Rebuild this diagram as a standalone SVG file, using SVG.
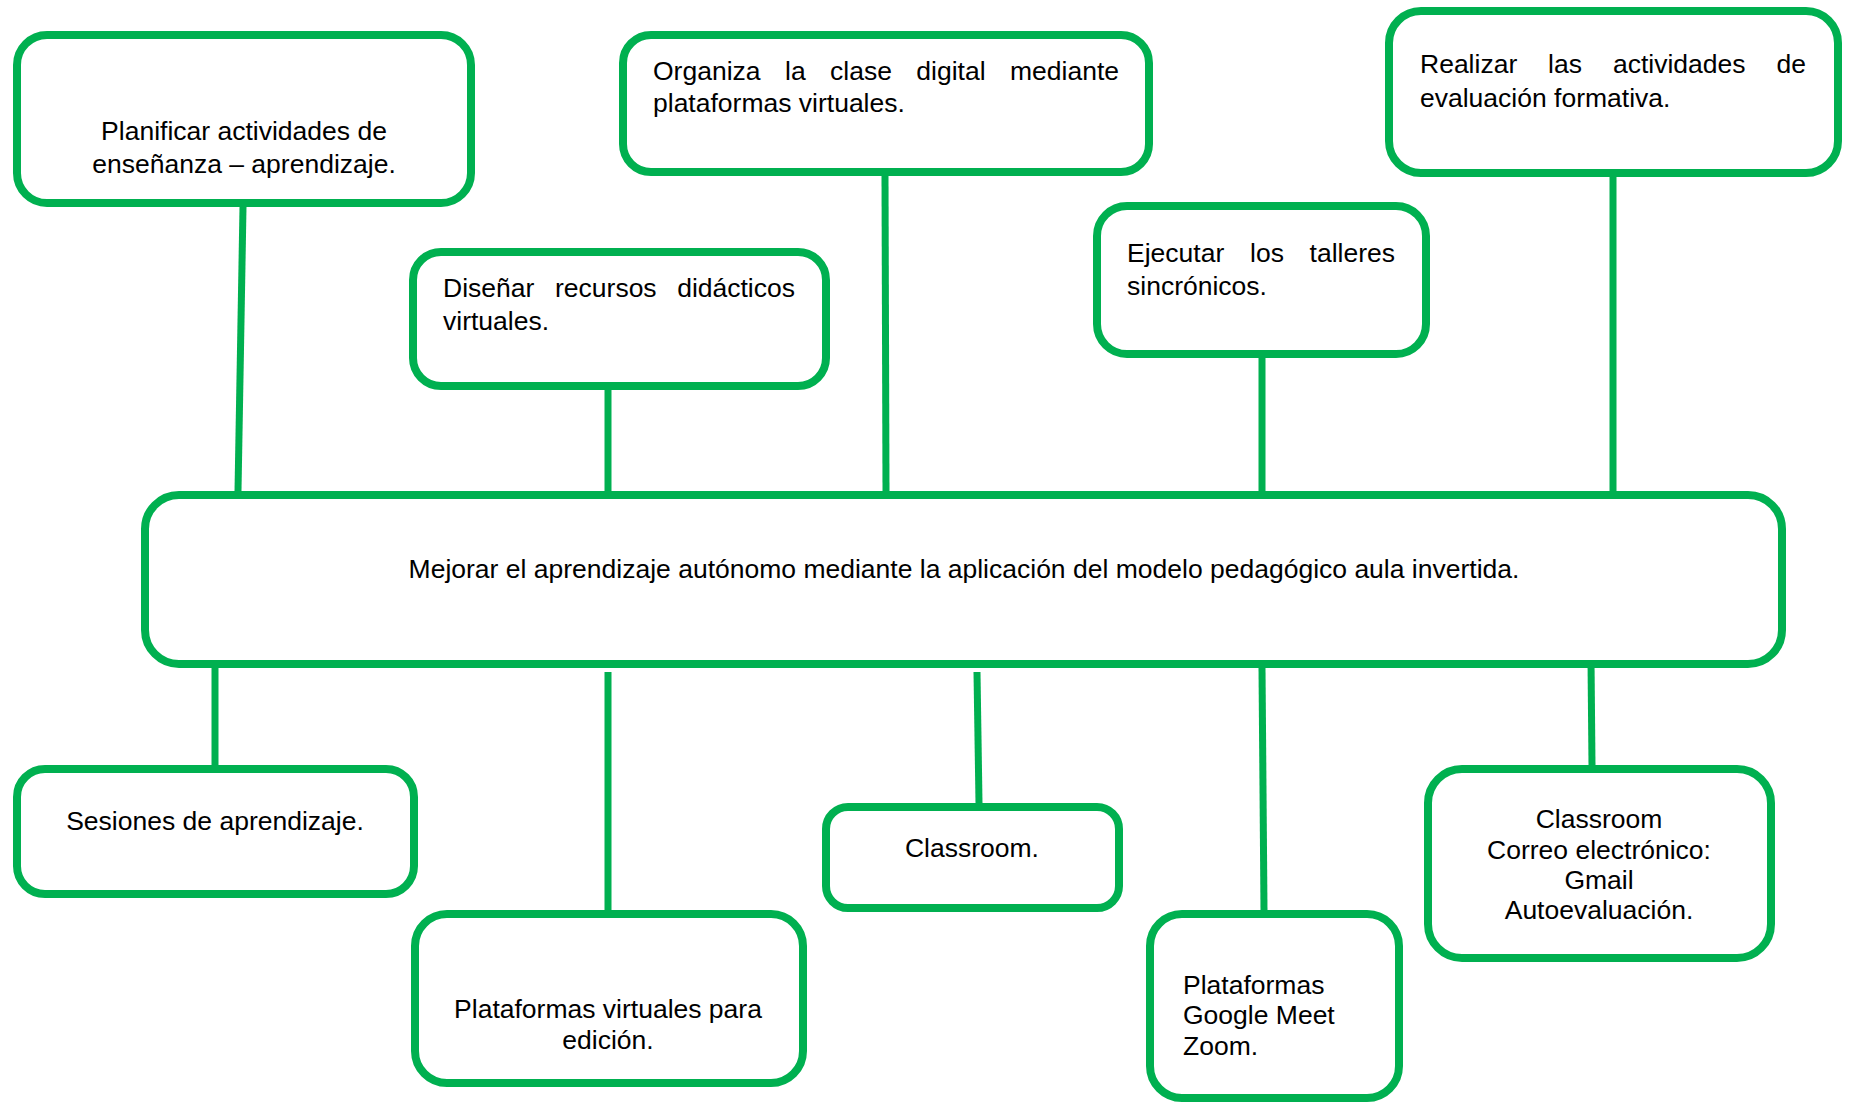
<svg xmlns="http://www.w3.org/2000/svg" width="1849" height="1102" viewBox="0 0 1849 1102">
<style>
.box{fill:#fff;stroke:#00B050;stroke-width:8}
.t{font-family:"Liberation Sans",Arial,sans-serif;font-size:26.5px;fill:#000}
.c{text-anchor:middle}
.e{text-anchor:end}
.conn line{stroke:#00B050;stroke-width:7}
</style>
<rect width="1849" height="1102" fill="#fff"/>
<g id="n-planificar">
<rect class="box" x="17" y="35" width="454" height="168" rx="30"/>
<text class="t c" x="244" y="140">Planificar actividades de</text>
<text class="t c" x="244" y="173">enseñanza – aprendizaje.</text>
</g>
<g id="n-organiza">
<rect class="box" x="623" y="35" width="526" height="137" rx="28"/>
<text class="t" y="80"><tspan x="653">Organiza</tspan><tspan x="785">la</tspan><tspan x="830">clase</tspan><tspan x="916.3">digital</tspan></text>
<text class="t e" x="1119" y="80">mediante</text>
<text class="t" x="653" y="112">plataformas virtuales.</text>
</g>
<g id="n-realizar">
<rect class="box" x="1389" y="11" width="449" height="162" rx="32"/>
<text class="t" y="73"><tspan x="1420">Realizar</tspan><tspan x="1548.1">las</tspan><tspan x="1612.9">actividades</tspan></text>
<text class="t e" x="1806" y="73">de</text>
<text class="t" x="1420" y="107">evaluación formativa.</text>
</g>
<g id="n-disenar">
<rect class="box" x="413" y="252" width="413" height="134" rx="28"/>
<text class="t" y="297"><tspan x="443">Diseñar</tspan><tspan x="555">recursos</tspan></text>
<text class="t e" x="795" y="297">didácticos</text>
<text class="t" x="443" y="330">virtuales.</text>
</g>
<g id="n-ejecutar">
<rect class="box" x="1097" y="206" width="329" height="148" rx="30"/>
<text class="t" y="262"><tspan x="1127">Ejecutar</tspan><tspan x="1250">los</tspan></text>
<text class="t e" x="1395" y="262">talleres</text>
<text class="t" x="1127" y="295">sincrónicos.</text>
</g>
<g id="n-central">
<rect class="box" x="145" y="495" width="1637" height="169" rx="34"/>
<text class="t c" x="964" y="578">Mejorar el aprendizaje autónomo mediante la aplicación del modelo pedagógico aula invertida.</text>
</g>
<g id="n-sesiones">
<rect class="box" x="17" y="769" width="397" height="125" rx="28"/>
<text class="t c" x="215" y="830">Sesiones de aprendizaje.</text>
</g>
<g id="n-edicion">
<rect class="box" x="415" y="914" width="388" height="169" rx="32"/>
<text class="t c" x="608" y="1018">Plataformas virtuales para</text>
<text class="t c" x="608" y="1049">edición.</text>
</g>
<g id="n-classroom">
<rect class="box" x="826" y="807" width="293" height="101" rx="22"/>
<text class="t c" x="972" y="857">Classroom.</text>
</g>
<g id="n-google">
<rect class="box" x="1150" y="914" width="249" height="184" rx="32"/>
<text class="t" x="1183" y="994">Plataformas</text>
<text class="t" x="1183" y="1024">Google Meet</text>
<text class="t" x="1183" y="1055">Zoom.</text>
</g>
<g id="n-correo">
<rect class="box" x="1428" y="769" width="343" height="189" rx="34"/>
<text class="t c" x="1599" y="828">Classroom</text>
<text class="t c" x="1599" y="859">Correo electrónico:</text>
<text class="t c" x="1599" y="889">Gmail</text>
<text class="t c" x="1599" y="919">Autoevaluación.</text>
</g>
<g id="connectors" class="conn">
<line x1="243" y1="207" x2="238" y2="491"/>
<line x1="608" y1="390" x2="608" y2="491"/>
<line x1="885" y1="176" x2="886" y2="491"/>
<line x1="1262" y1="358" x2="1262" y2="491"/>
<line x1="1613" y1="177" x2="1613" y2="491"/>
<line x1="215" y1="668" x2="215" y2="765"/>
<line x1="608" y1="672" x2="608" y2="910"/>
<line x1="977" y1="672" x2="979" y2="803"/>
<line x1="1262" y1="668" x2="1264" y2="910"/>
<line x1="1591" y1="660" x2="1592" y2="765"/>
</g>
</svg>
